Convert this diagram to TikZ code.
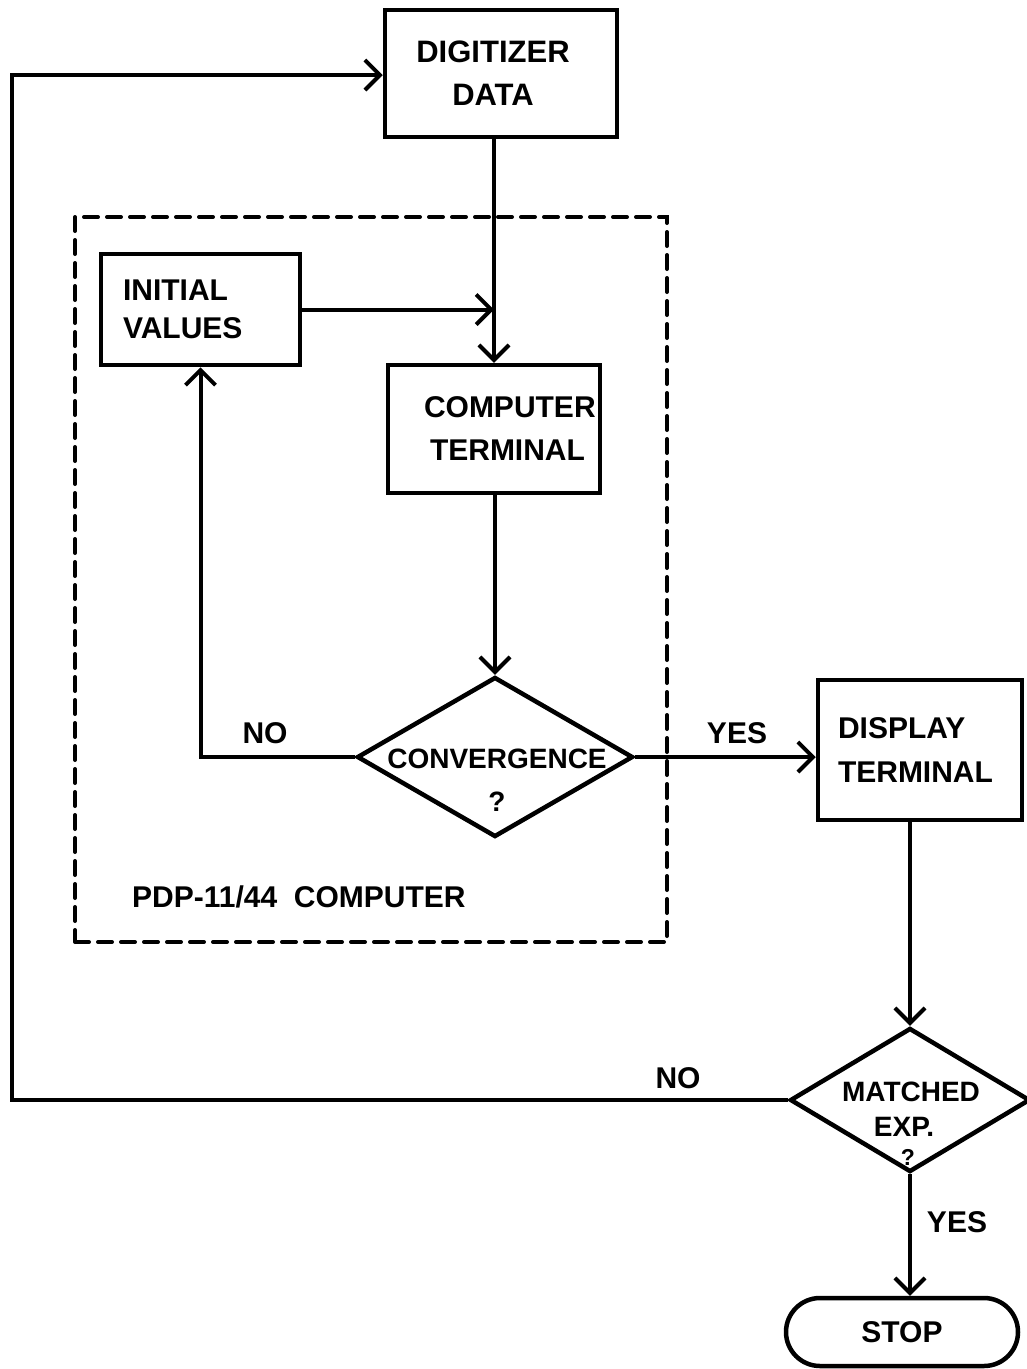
\documentclass[tikz,border=0pt]{standalone}
\usepackage{fontspec}
\setmainfont{Liberation Sans}
\usetikzlibrary{arrows.meta,shapes.geometric}
\tikzset{
  box/.style={draw, line width=4.5pt, rectangle, inner sep=0pt},
  lbl/.style={inner sep=0pt, font=\fontsize{30}{43}\selectfont\bfseries},
  conn/.style={line width=4pt},
  arr/.style={conn, -{Straight Barb[length=15pt,width=30pt,line width=4pt]}},
  decision/.style={draw, diamond, line width=4.5pt, inner sep=0pt},
}
\begin{document}
\begin{tikzpicture}[x=1pt,y=-1pt]
\useasboundingbox (0,0) rectangle (1027,1369);
% dashed computer frame
\node[draw, line width=4pt, line cap=round, dash pattern=on 14pt off 9pt,
      minimum width=592pt, minimum height=725pt, inner sep=0pt] (pdp) at (371,579.5) {};
\node[lbl, anchor=west] (pdplbl) at (132,897) {PDP-11/44\ \ COMPUTER};
% boxes
\node[box, minimum width=232pt, minimum height=127pt, align=center,
      font=\fontsize{31}{43}\selectfont\bfseries] (dig) at (501,73.5) {\hspace*{-16pt}DIGITIZER\\\hspace*{-16pt}DATA};
\node[box, minimum width=199pt, minimum height=111pt, inner xsep=22pt, text width=155pt,
      align=left, font=\fontsize{30}{38}\selectfont\bfseries] (iv) at (200.5,309.5) {INITIAL\\VALUES};
\node[box, minimum width=212pt, minimum height=128pt, inner xsep=36pt, text width=140pt,
      align=left, font=\fontsize{30}{43}\selectfont\bfseries] (ct) at (494,429) {\mbox{COMPUTER}\\\mbox{\hspace*{6pt}TERMINAL}};
\node[box, minimum width=204pt, minimum height=140pt, inner xsep=20pt, text width=164pt,
      align=left, font=\fontsize{30}{44}\selectfont\bfseries] (disp) at (920,750) {DISPLAY\\TERMINAL};
% decisions
\node[decision, minimum width=276pt, minimum height=160pt] (conv) at (495,757) {};
\node[lbl, align=center, font=\fontsize{28}{43}\selectfont\bfseries] (convtxt) at (497,780) {CONVERGENCE\\?};
\node[decision, minimum width=240pt, minimum height=144pt] (match) at (910,1100) {};
\node[lbl, align=center, font=\fontsize{28}{35}\selectfont\bfseries] (matchtxt) at (911,1109) {MATCHED\\\hspace*{-14pt}EXP.};
\node[lbl, font=\fontsize{23}{26}\selectfont\bfseries] (matchq) at (908,1157) {?};
% terminal
\node[draw, line width=4.5pt, rounded corners=34pt, minimum width=232pt, minimum height=68pt,
      font=\fontsize{30}{36}\selectfont\bfseries] (stop) at (902,1332) {STOP};
% connectors
\coordinate (looptl) at (12,75);
\draw[arr] (match.west) -- (match.west -| looptl) -- (looptl) -- (looptl -| dig.west);
\draw[arr] (dig.south -| ct.north) -- (ct.north);
\draw[arr] (iv.east) -- (iv.east -| ct.north);
\draw[arr] (ct.south -| conv.north) -- (conv.north);
\draw[arr] (conv.west) -- (conv.west -| iv.south) -- (iv.south);
\draw[arr] (conv.east) -- (conv.east -| disp.west);
\draw[arr] (disp.south -| match.north) -- (match.north);
\draw[arr] (match.south) -- (match.south |- stop.north);
% labels
\node[lbl] (no1) at (265,733) {NO};
\node[lbl] (yes1) at (737,733) {YES};
\node[lbl] (no2) at (678,1078) {NO};
\node[lbl] (yes2) at (957,1222) {YES};
\end{tikzpicture}
\end{document}
